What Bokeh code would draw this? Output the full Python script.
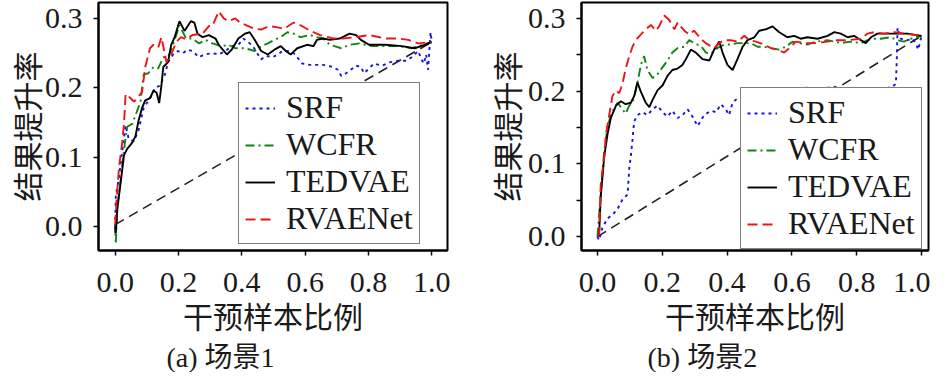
from bokeh.plotting import figure
from bokeh.models import Range1d, FixedTicker, Legend, LegendItem, Title, NumeralTickFormatter
from bokeh.layouts import row
from bokeh.embed import file_html
from bokeh.resources import INLINE

# ---------------- data ----------------
series_names = ["SRF", "WCFR", "TEDVAE", "RVAENet"]
x_ticks = [0.0, 0.2, 0.4, 0.6, 0.8, 1.0]
y_ticks = [0.0, 0.1, 0.2, 0.3]
y_minor_b = [0.05, 0.15, 0.25]
captions = ["(a) 场景1", "(b) 场景2"]
x_title = "干预样本比例"
y_title = "结果提升率"

a_srf = [(0, 0.0), (0.002, 0.044), (0.012, 0.071), (0.033, 0.146), (0.043, 0.126), (0.059, 0.123),
         (0.074, 0.139), (0.09, 0.171), (0.11, 0.185), (0.126, 0.2), (0.141, 0.203), (0.157, 0.219),
         (0.167, 0.237), (0.183, 0.248), (0.198, 0.253), (0.214, 0.25), (0.229, 0.255), (0.244, 0.253),
         (0.265, 0.244), (0.281, 0.248), (0.307, 0.25), (0.327, 0.248), (0.348, 0.253), (0.368, 0.26),
         (0.389, 0.262), (0.405, 0.271), (0.42, 0.266), (0.435, 0.26), (0.451, 0.248), (0.461, 0.241),
         (0.477, 0.246), (0.497, 0.244), (0.513, 0.248), (0.528, 0.253), (0.549, 0.253), (0.564, 0.25),
         (0.575, 0.244), (0.59, 0.235), (0.616, 0.233), (0.657, 0.233), (0.688, 0.23), (0.703, 0.226),
         (0.714, 0.217), (0.729, 0.221), (0.75, 0.228), (0.761, 0.232), (0.776, 0.23), (0.786, 0.221),
         (0.802, 0.228), (0.817, 0.235), (0.843, 0.232), (0.869, 0.237), (0.895, 0.239), (0.92, 0.239),
         (0.936, 0.244), (0.957, 0.253), (0.967, 0.241), (0.975, 0.235), (0.982, 0.248), (0.988, 0.226),
         (0.996, 0.28), (1.0, 0.266)]
a_wcfr = [(0, 0.0), (0.002, -0.025), (0.007, 0.03), (0.018, 0.07), (0.028, 0.111), (0.038, 0.144),
          (0.054, 0.148), (0.064, 0.16), (0.08, 0.18), (0.09, 0.219), (0.105, 0.221), (0.121, 0.23),
          (0.136, 0.228), (0.152, 0.244), (0.167, 0.244), (0.183, 0.262), (0.203, 0.29), (0.224, 0.271),
          (0.244, 0.271), (0.265, 0.264), (0.286, 0.269), (0.307, 0.264), (0.337, 0.26), (0.358, 0.262),
          (0.379, 0.257), (0.41, 0.257), (0.441, 0.253), (0.461, 0.26), (0.482, 0.264), (0.503, 0.269),
          (0.523, 0.273), (0.544, 0.28), (0.564, 0.278), (0.585, 0.273), (0.616, 0.276), (0.637, 0.273),
          (0.657, 0.271), (0.678, 0.262), (0.714, 0.257), (0.74, 0.262), (0.771, 0.264), (0.812, 0.26),
          (0.853, 0.26), (0.895, 0.26), (0.936, 0.257), (0.957, 0.26), (1.0, 0.266)]
a_tedvae = [(0, 0.0), (0.002, -0.009), (0.007, 0.026), (0.018, 0.066), (0.028, 0.103), (0.038, 0.112),
            (0.054, 0.121), (0.064, 0.13), (0.074, 0.153), (0.085, 0.171), (0.095, 0.182), (0.11, 0.185),
            (0.121, 0.196), (0.131, 0.193), (0.139, 0.178), (0.146, 0.203), (0.152, 0.23), (0.167, 0.237),
            (0.177, 0.262), (0.188, 0.273), (0.203, 0.296), (0.219, 0.282), (0.239, 0.296), (0.25, 0.294),
            (0.26, 0.278), (0.276, 0.273), (0.296, 0.276), (0.317, 0.271), (0.327, 0.262), (0.353, 0.248),
            (0.368, 0.255), (0.389, 0.271), (0.41, 0.278), (0.425, 0.28), (0.441, 0.269), (0.461, 0.253),
            (0.482, 0.248), (0.503, 0.255), (0.523, 0.26), (0.539, 0.253), (0.554, 0.248), (0.575, 0.257),
            (0.606, 0.262), (0.626, 0.26), (0.637, 0.269), (0.657, 0.271), (0.678, 0.269), (0.709, 0.271),
            (0.74, 0.278), (0.761, 0.276), (0.776, 0.269), (0.802, 0.262), (0.853, 0.262), (0.905, 0.26),
            (0.946, 0.257), (0.977, 0.262), (1.0, 0.266)]
a_rvaenet = [(0, 0.003), (0.004, 0.035), (0.012, 0.085), (0.022, 0.12), (0.028, 0.149), (0.033, 0.191),
             (0.049, 0.185), (0.06, 0.18), (0.069, 0.185), (0.085, 0.194), (0.095, 0.23), (0.11, 0.257),
             (0.121, 0.262), (0.136, 0.258), (0.146, 0.273), (0.162, 0.237), (0.177, 0.248), (0.193, 0.266),
             (0.208, 0.273), (0.224, 0.27), (0.244, 0.276), (0.276, 0.278), (0.296, 0.289), (0.307, 0.289),
             (0.327, 0.31), (0.343, 0.3), (0.358, 0.296), (0.379, 0.3), (0.394, 0.294), (0.42, 0.289),
             (0.441, 0.285), (0.461, 0.284), (0.487, 0.289), (0.513, 0.287), (0.533, 0.285), (0.564, 0.294),
             (0.59, 0.289), (0.616, 0.282), (0.647, 0.276), (0.673, 0.273), (0.688, 0.271), (0.719, 0.271),
             (0.76, 0.273), (0.802, 0.276), (0.853, 0.271), (0.895, 0.271), (0.926, 0.269), (0.957, 0.264),
             (1.0, 0.266)]
a_random = [(0, 0.003), (1.0, 0.266)]

b_srf = [(0, 0.0), (0.005, -0.005), (0.015, 0.012), (0.031, 0.025), (0.046, 0.03), (0.062, 0.038),
         (0.077, 0.051), (0.093, 0.058), (0.098, 0.094), (0.103, 0.111), (0.108, 0.133), (0.113, 0.158),
         (0.123, 0.167), (0.139, 0.171), (0.154, 0.167), (0.17, 0.175), (0.185, 0.18), (0.201, 0.171),
         (0.216, 0.165), (0.231, 0.173), (0.247, 0.163), (0.262, 0.167), (0.278, 0.175), (0.293, 0.165),
         (0.309, 0.152), (0.329, 0.167), (0.35, 0.173), (0.366, 0.171), (0.381, 0.182), (0.396, 0.175),
         (0.406, 0.167), (0.417, 0.184), (0.432, 0.19), (0.463, 0.19), (0.494, 0.19), (0.514, 0.193),
         (0.535, 0.188), (0.556, 0.193), (0.586, 0.197), (0.617, 0.201), (0.638, 0.206), (0.658, 0.203),
         (0.689, 0.203), (0.731, 0.206), (0.761, 0.201), (0.792, 0.197), (0.833, 0.193), (0.854, 0.199),
         (0.885, 0.203), (0.91, 0.206), (0.921, 0.21), (0.924, 0.248), (0.926, 0.287), (0.936, 0.272),
         (0.957, 0.27), (0.972, 0.272), (0.982, 0.266), (0.99, 0.257), (1.0, 0.276)]
b_wcfr = [(0, 0.0), (0.005, 0.03), (0.01, 0.059), (0.021, 0.119), (0.031, 0.15), (0.041, 0.167),
          (0.052, 0.177), (0.062, 0.184), (0.072, 0.178), (0.087, 0.169), (0.098, 0.18), (0.108, 0.184),
          (0.118, 0.2), (0.134, 0.236), (0.144, 0.248), (0.154, 0.229), (0.17, 0.218), (0.185, 0.223),
          (0.201, 0.233), (0.216, 0.242), (0.231, 0.253), (0.247, 0.259), (0.268, 0.261), (0.283, 0.27),
          (0.298, 0.266), (0.319, 0.262), (0.335, 0.253), (0.35, 0.251), (0.37, 0.259), (0.391, 0.264),
          (0.411, 0.264), (0.432, 0.266), (0.453, 0.266), (0.473, 0.266), (0.494, 0.261), (0.514, 0.261),
          (0.535, 0.259), (0.561, 0.257), (0.581, 0.261), (0.602, 0.268), (0.622, 0.266), (0.648, 0.264),
          (0.674, 0.268), (0.71, 0.27), (0.751, 0.266), (0.782, 0.268), (0.813, 0.266), (0.844, 0.272),
          (0.874, 0.272), (0.905, 0.274), (0.926, 0.27), (0.946, 0.268), (0.967, 0.272), (1.0, 0.276)]
b_tedvae = [(0, 0.0), (0.005, 0.004), (0.01, 0.055), (0.021, 0.111), (0.031, 0.141), (0.041, 0.163),
            (0.057, 0.18), (0.072, 0.186), (0.087, 0.182), (0.103, 0.184), (0.113, 0.193), (0.123, 0.212),
            (0.134, 0.199), (0.149, 0.184), (0.16, 0.178), (0.17, 0.188), (0.185, 0.201), (0.201, 0.208),
            (0.216, 0.221), (0.231, 0.229), (0.247, 0.231), (0.262, 0.236), (0.273, 0.244), (0.288, 0.257),
            (0.303, 0.253), (0.324, 0.244), (0.345, 0.242), (0.36, 0.257), (0.376, 0.268), (0.386, 0.253),
            (0.401, 0.236), (0.417, 0.229), (0.432, 0.244), (0.448, 0.261), (0.463, 0.27), (0.484, 0.274),
            (0.499, 0.283), (0.52, 0.285), (0.54, 0.289), (0.561, 0.281), (0.586, 0.274), (0.607, 0.276),
            (0.627, 0.272), (0.648, 0.274), (0.679, 0.272), (0.71, 0.276), (0.731, 0.281), (0.751, 0.279),
            (0.772, 0.274), (0.792, 0.276), (0.813, 0.27), (0.828, 0.266), (0.844, 0.274), (0.864, 0.279),
            (0.895, 0.279), (0.926, 0.279), (0.957, 0.279), (1.0, 0.276)]
b_rvaenet = [(0, 0.0), (0.005, 0.004), (0.01, 0.072), (0.021, 0.111), (0.026, 0.141), (0.036, 0.167),
             (0.046, 0.193), (0.057, 0.201), (0.067, 0.197), (0.077, 0.21), (0.087, 0.231), (0.098, 0.248),
             (0.108, 0.261), (0.118, 0.27), (0.134, 0.278), (0.149, 0.285), (0.165, 0.291), (0.18, 0.283),
             (0.19, 0.289), (0.206, 0.304), (0.221, 0.298), (0.237, 0.285), (0.247, 0.294), (0.268, 0.283),
             (0.283, 0.278), (0.298, 0.283), (0.319, 0.272), (0.334, 0.266), (0.36, 0.259), (0.376, 0.266),
             (0.391, 0.27), (0.411, 0.27), (0.432, 0.268), (0.453, 0.276), (0.468, 0.27), (0.489, 0.268),
             (0.514, 0.264), (0.535, 0.259), (0.556, 0.257), (0.576, 0.253), (0.592, 0.259), (0.612, 0.268),
             (0.638, 0.266), (0.669, 0.266), (0.71, 0.268), (0.741, 0.27), (0.772, 0.27), (0.813, 0.272),
             (0.833, 0.279), (0.854, 0.281), (0.885, 0.279), (0.916, 0.281), (0.947, 0.279), (1.0, 0.276)]
b_random = [(0, 0.0), (1.0, 0.276)]

# ---------------- styling ----------------
SERIF = "Liberation Serif"
CJK = "Noto Sans CJK SC"
MIXED = "Liberation Serif, Noto Sans CJK SC"
TXT = "#1a1a1a"
H = 372
styles = {
    "SRF": dict(color="#1414e6", dash="3 4"),
    "WCFR": dict(color="#128412", dash="9 4 2 4"),
    "TEDVAE": dict(color="black", dash="solid"),
    "RVAENet": dict(color="#ec1515", dash="10 5"),
}


def panel(data, rand, caption, width, bl, br, xr, yr, minor, legend_loc, cap_x, ylab_standoff):
    p = figure(width=width, height=H, x_range=Range1d(*xr), y_range=Range1d(*yr),
               output_backend="svg", toolbar_location=None,
               min_border_left=bl, min_border_right=br, min_border_top=2, min_border_bottom=120)
    p.grid.visible = False
    p.outline_line_color = "black"
    p.outline_line_width = 2
    p.outline_line_alpha = 1
    p.background_fill_color = "white"
    p.border_fill_color = "white"

    p.line([t[0] for t in rand], [t[1] for t in rand], color="#222222", line_width=1.6, line_dash="10 6")
    items = []
    for name, pts in zip(series_names, data):
        st = styles[name]
        r = p.line([t[0] for t in pts], [t[1] for t in pts], color=st["color"], line_width=1.9,
                   line_dash=st["dash"])
        items.append(LegendItem(label=name, renderers=[r]))

    for ax in (p.xaxis[0], p.yaxis[0]):
        ax.axis_line_color = "black"
        ax.axis_line_width = 2
        ax.major_tick_in = 0
        ax.major_tick_out = 5
        ax.major_tick_line_width = 1.5
        ax.minor_tick_in = 0
        ax.minor_tick_out = 5
        ax.minor_tick_line_width = 1.5
        ax.major_label_text_font = SERIF
        ax.major_label_text_font_size = "30px"
        ax.major_label_text_color = TXT
        ax.formatter = NumeralTickFormatter(format="0.0")
        ax.axis_label_text_font = CJK
        ax.axis_label_text_font_size = "30px"
        ax.axis_label_text_font_style = "normal"
        ax.axis_label_text_color = TXT
    p.xaxis.ticker = FixedTicker(ticks=x_ticks, minor_ticks=[])
    p.yaxis.ticker = FixedTicker(ticks=y_ticks, minor_ticks=minor)
    p.xaxis.major_label_standoff = 17
    p.yaxis.major_label_standoff = 11
    p.xaxis.axis_label_standoff = -2
    p.yaxis.axis_label_standoff = ylab_standoff
    p.xaxis.axis_label = x_title
    p.yaxis.axis_label = y_title

    leg = Legend(items=items, location=legend_loc, orientation="vertical",
                 label_text_font=SERIF, label_text_font_size="32px", label_text_color=TXT,
                 glyph_width=30, glyph_height=20, label_height=34, label_standoff=11,
                 spacing=0, padding=6, margin=0,
                 border_line_color="black", border_line_width=1.5,
                 background_fill_color="white", background_fill_alpha=1)
    p.add_layout(leg)

    cap = Title(text=caption, align="left", offset=cap_x, text_font=MIXED,
                text_font_size="28px", text_font_style="normal", text_color=TXT, standoff=0)
    p.add_layout(cap, "below")
    return p


pa = panel([a_srf, a_wcfr, a_tedvae, a_rvaenet], a_random, captions[0], 464, 91, 17,
           (-0.0526, 1.0495), (-0.0343, 0.3229), [], (140, 6), 68, -6)
pb = panel([b_srf, b_wcfr, b_tedvae, b_rvaenet], b_random, captions[1], 466, 117, 2,
           (-0.0494, 1.0216), (-0.0191, 0.3218), y_minor_b, (159, 1), 66, -3)

layout = row(pa, pb, spacing=0)
open("out.html", "w").write(file_html(layout, INLINE))
